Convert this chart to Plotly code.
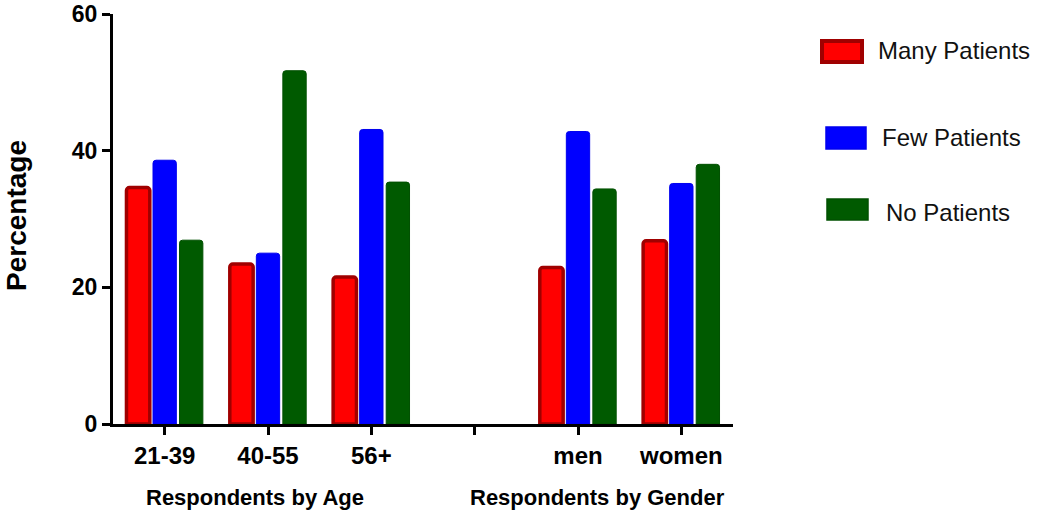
import plotly.graph_objects as go

categories = ["21-39", "40-55", "56+", " ", "men", "women"]
many_patients = [34.6, 23.4, 21.5, None, 22.9, 26.8]
few_patients = [38.6, 25.0, 43.1, None, 42.8, 35.2]
no_patients = [26.9, 51.7, 35.4, None, 34.4, 38.0]
y_ticks = [0, 20, 40, 60]
series_names = ["Many Patients", "Few Patients", "No Patients"]
fill_colors = ["#ff0000", "#0000ff", "#005a00"]
line_colors = ["#a00000", "#0000ee", "#005000"]
line_widths = [3.5, 1, 1]

FONT = "Arial, 'Liberation Sans', Helvetica, sans-serif"

fig = go.Figure()
for name, vals, fc, lc, lw in zip(series_names, [many_patients, few_patients, no_patients],
                                  fill_colors, line_colors, line_widths):
    fig.add_trace(go.Bar(x=categories, y=vals, name=name,
                         marker=dict(color=fc, line=dict(color=lc, width=lw)),
                         showlegend=False))

L, R, T, B = 113, 317, 14, 88
W, H = 1050, 512
pw, ph = W - L - R, H - T - B

def px2paper(x, y):
    return (x - L) / pw, (H - B - y) / ph

# legend drawn manually
legend_rows = [(822, 41, 862, 62, 876, 51), (826, 127, 866, 149, 880, 137), (827, 199, 868, 220, 884, 212)]
shapes = []
annotations = []
for (x0, y0, x1, y1, tx, ty), name, fc, lc, lw in zip(legend_rows, series_names, fill_colors, line_colors, line_widths):
    px0, py0 = px2paper(x0, y1)
    px1, py1 = px2paper(x1, y0)
    shapes.append(dict(type="rect", xref="paper", yref="paper", x0=px0, y0=py0, x1=px1, y1=py1,
                       fillcolor=fc, line=dict(color=lc, width=lw + 0.5)))
    ax, ay = px2paper(tx, ty)
    annotations.append(dict(xref="paper", yref="paper", x=ax, y=ay, text=name, showarrow=False,
                            xanchor="left", yanchor="middle",
                            font=dict(family=FONT, size=24, color="#111111")))

# y-axis title
tx, ty = px2paper(16, 216)
annotations.append(dict(xref="paper", yref="paper", x=tx, y=ty, text="<b>Percentage</b>", textangle=-90,
                        showarrow=False, xanchor="center", yanchor="middle",
                        font=dict(family=FONT, size=28, color="#000000")))
# group labels
for text, cx in [("Respondents by Age", 255), ("Respondents by Gender", 597)]:
    gx, gy = px2paper(cx, 497)
    annotations.append(dict(xref="paper", yref="paper", x=gx, y=gy, text="<b>" + text + "</b>",
                            showarrow=False, xanchor="center", yanchor="middle",
                            font=dict(family=FONT, size=22, color="#000000")))

fig.update_layout(
    width=W, height=H,
    margin=dict(l=L, r=R, t=T, b=B, autoexpand=False),
    plot_bgcolor="white", paper_bgcolor="white",
    barmode="group", bargap=0.23, bargroupgap=0.12,
    barcornerradius=3,
    shapes=shapes, annotations=annotations,
    font=dict(family=FONT, color="#000000"),
)
fig.update_xaxes(type="category", categoryorder="array", categoryarray=categories,
                 range=[-0.5, 5.5], showgrid=False, zeroline=False, automargin=False,
                 showline=True, linecolor="black", linewidth=3,
                 ticks="outside", ticklen=8, tickwidth=3, tickcolor="black",
                 tickfont=dict(family=FONT, size=24, color="#000000", weight="bold"))
fig.update_yaxes(range=[0, 60], tickvals=y_ticks, ticktext=[str(v) for v in y_ticks],
                 showgrid=False, zeroline=False, ticklabeloverflow="allow", automargin=False,
                 showline=True, linecolor="black", linewidth=3,
                 ticks="outside", ticklen=8, tickwidth=3, tickcolor="black",
                 tickfont=dict(family=FONT, size=23, color="#000000", weight="bold"))

fig.write_html("out.html", config={"displayModeBar": False},
               post_script="document.body.style.margin='0';document.body.style.overflow='hidden';")
